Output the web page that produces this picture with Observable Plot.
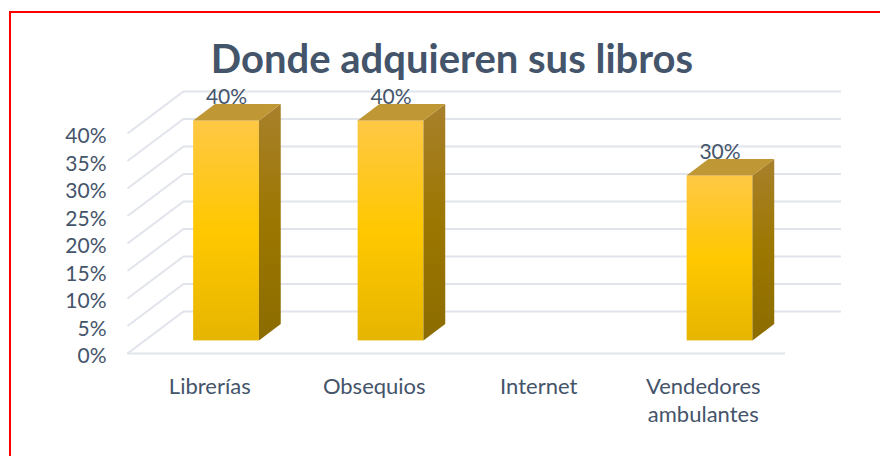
<!DOCTYPE html>
<html lang="es">
<head>
<meta charset="utf-8">
<script src="https://cdn.jsdelivr.net/npm/d3@7"></script>
<script src="https://cdn.jsdelivr.net/npm/@observablehq/plot@0.6"></script>
<style>
  html, body { margin: 0; padding: 0; background: #fff; }
  body { width: 880px; height: 456px; overflow: hidden; position: relative; font-family: Lato, sans-serif; }
  #frame { position: absolute; left: 9px; top: 11px; right: 0; bottom: 0; border-left: 2px solid #f00; border-top: 2px solid #f00; }
  #title { position: absolute; left: 0; width: 904px; top: 35px; text-align: center; font: 700 40px Lato, sans-serif; color: #44546a; line-height: 46px; }
  #chart { position: absolute; left: 0; top: 80px; }
  #chart svg { display: block; background: transparent; }
</style>
</head>
<body>
<div id="frame"></div>
<div id="title">Donde adquieren sus libros</div>
<div id="chart"></div>
<script>
const categories = ["Librerías", "Obsequios", "Internet", "Vendedores\nambulantes"];
const values = [0.40, 0.40, 0, 0.30];
const ticks = [0, 0.05, 0.10, 0.15, 0.20, 0.25, 0.30, 0.35, 0.40];

// oblique projection, in scale units
const depthX = 0.34, depthY = 0.0764;
const barWidth = 0.40, barFront = 0.30, barBack = 0.69;
const ink = "#44546a", gridColor = "#e2e4ec";

const bars = categories.map((c, i) => ({c, i, v: values[i]})).filter(d => d.v > 0);
const left = d => d.i + 0.5 - barWidth / 2;
const right = d => d.i + 0.5 + barWidth / 2;

function defs() {
  const g = document.createElementNS("http://www.w3.org/2000/svg", "g");
  g.innerHTML = `<defs>
    <linearGradient id="gFront" x1="0" y1="0" x2="0" y2="1">
      <stop offset="0" stop-color="#ffc845"/><stop offset="0.5" stop-color="#ffc800"/><stop offset="1" stop-color="#e6b500"/>
    </linearGradient>
    <linearGradient id="gSide" x1="0" y1="0" x2="0" y2="1">
      <stop offset="0" stop-color="#a8802c"/><stop offset="0.5" stop-color="#9c7700"/><stop offset="1" stop-color="#8c6c00"/>
    </linearGradient>
  </defs>`;
  return g;
}

const topFace = bars.flatMap(d => [
  {id: d.i, y: d.v + barFront * depthY, x1: left(d) + barFront * depthX, x2: right(d) + barFront * depthX},
  {id: d.i, y: d.v + barBack * depthY, x1: left(d) + barBack * depthX, x2: right(d) + barBack * depthX}
]);
const sideFace = bars.flatMap(d => [
  {id: d.i, x: right(d) + barFront * depthX, y1: barFront * depthY, y2: d.v + barFront * depthY},
  {id: d.i, x: right(d) + barBack * depthX, y1: barBack * depthY, y2: d.v + barBack * depthY}
]);

const plot = Plot.plot({
  width: 880,
  height: 376,
  marginLeft: 127, marginRight: 95, marginTop: 53, marginBottom: 103,
  style: {fontFamily: "Lato, sans-serif", color: ink, background: "transparent", overflow: "visible"},
  x: {type: "linear", domain: [0, 4], range: [127, 785], axis: null},
  y: {type: "linear", domain: [0, 0.4], range: [273, 53], axis: null},
  marks: [
    defs,
    Plot.ruleY(ticks, {y: d => d + depthY, x1: depthX, x2: 4 + depthX, stroke: gridColor, strokeWidth: 2}),
    Plot.link(ticks, {x1: 0, y1: d => d, x2: depthX, y2: d => d + depthY, stroke: gridColor, strokeWidth: 2}),
    Plot.ruleY([0], {x1: 0, x2: 4, stroke: gridColor, strokeWidth: 2}),
    Plot.rect(bars, {
      x1: d => left(d) + barFront * depthX, x2: d => right(d) + barFront * depthX,
      y1: barFront * depthY, y2: d => d.v + barFront * depthY,
      fill: "url(#gFront)", inset: 0
    }),
    Plot.areaY(sideFace, {x: "x", y1: "y1", y2: "y2", z: "id", fill: "url(#gSide)"}),
    Plot.areaX(topFace, {y: "y", x1: "x1", x2: "x2", z: "id", fill: "#c09735"}),
    Plot.text(bars, {
      x: d => d.i + 0.5 + barFront * depthX,
      y: d => d.v + barBack * depthY,
      text: d => `${Math.round(d.v * 100)}%`,
      fontSize: 21, fill: ink, lineAnchor: "bottom", dy: -1
    }),
    Plot.axisY({ticks, tickFormat: d => `${Math.round(d * 100)}%`, anchor: "left", tickSize: 0, tickPadding: 21, fontSize: 21, label: null, color: ink, dy: 3}),
    Plot.axisX({ticks: categories.map((c, i) => i + 0.5), tickFormat: (d) => categories[Math.floor(d)], anchor: "bottom", tickSize: 0, tickPadding: 20, fontSize: 22, lineHeight: 1.3, label: null, color: ink})
  ]
});
document.getElementById("chart").append(plot);
</script>
</body>
</html>
